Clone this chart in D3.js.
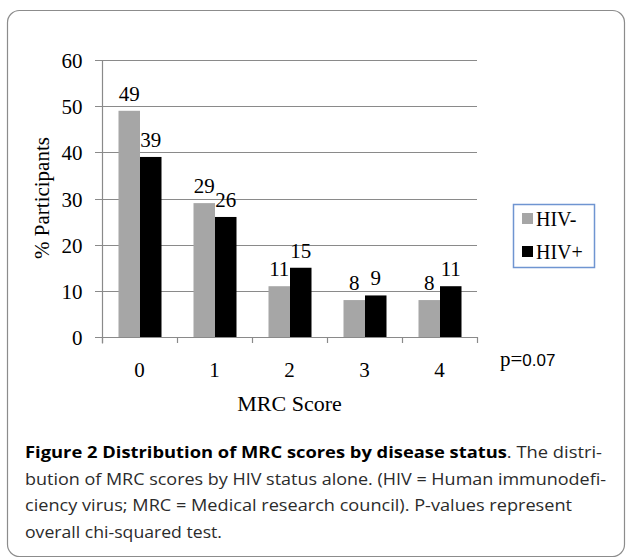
<!DOCTYPE html>
<html>
<head>
<meta charset="utf-8">
<style>
  body { margin: 0; background: #fff; }
  .tick text, .lbl { font-family: "Liberation Serif", "Times New Roman", serif; fill: #000; }
  .caption { font-family: "Open Sans", "Noto Sans", sans-serif; font-size: 16.5px; fill: #2b2b2b; }
</style>
<script src="https://cdn.jsdelivr.net/npm/d3@7"></script>
</head>
<body>
<svg width="626" height="558"></svg>
<script>
var scores = ["0", "1", "2", "3", "4"],
    hivNeg = [49, 29, 11, 8, 8],
    hivPos = [39, 26, 15, 9, 11],
    seriesNames = ["HIV-", "HIV+"],
    seriesColors = ["#a6a6a6", "#000000"],
    yTicks = [0, 10, 20, 30, 40, 50, 60];

var captionLines = [
  [{t: "Figure 2 Distribution of MRC scores by disease status", b: true}, {t: ". The distri-"}],
  [{t: "bution of MRC scores by HIV status alone. (HIV = Human immunodefi-"}],
  [{t: "ciency virus; MRC = Medical research council). P-values represent"}],
  [{t: "overall chi-squared test."}]
];
var captionWidths = [577, 581, 547, 197];

var svg = d3.select("svg"),
    plotLeft = 102, plotRight = 477, plotTop = 60, plotBottom = 337;

// outer rounded frame
svg.append("rect")
    .attr("x", 7.5).attr("y", 10.5)
    .attr("width", 617).attr("height", 546)
    .attr("rx", 12)
    .attr("fill", "none")
    .attr("stroke", "#8c8c8c")
    .attr("stroke-width", 1.2);

var x0 = d3.scaleBand().domain(scores).range([plotLeft, plotRight]).padding(0),
    x1 = d3.scaleBand().domain(seriesNames).range([16.5, 59.5]),
    y = d3.scaleLinear().domain([0, 60]).range([plotBottom, plotTop]);

// gridlines
svg.append("g").selectAll("line")
  .data(yTicks)
  .enter().append("line")
    .attr("x1", plotLeft - 7).attr("x2", plotRight)
    .attr("y1", function(d) { return Math.round(y(d)) + 0.5; })
    .attr("y2", function(d) { return Math.round(y(d)) + 0.5; })
    .attr("stroke", "#8a8a8a")
    .attr("stroke-width", 1.2);

var yAxis = svg.append("g")
    .attr("transform", "translate(" + (plotLeft + 0.5) + ",0.5)")
    .call(d3.axisLeft(y).tickValues(yTicks).tickSize(0).tickPadding(20));
yAxis.select(".domain").attr("stroke", "#8a8a8a").attr("stroke-width", 1.2)
    .attr("d", "M0," + plotTop + "V" + (plotBottom + 6));
yAxis.selectAll(".tick text").style("font-size", "21px").attr("dy", "0.34em");

// x axis boundary ticks
var bounds = scores.map(function(d) { return x0(d); }).concat([plotRight]);
svg.append("g").selectAll("line")
  .data(bounds)
  .enter().append("line")
    .attr("x1", function(d) { return Math.round(d) + 0.5; })
    .attr("x2", function(d) { return Math.round(d) + 0.5; })
    .attr("y1", plotBottom).attr("y2", plotBottom + 6)
    .attr("stroke", "#8a8a8a")
    .attr("stroke-width", 1.2);

var xAxis = svg.append("g")
    .attr("transform", "translate(0," + plotBottom + ")")
    .call(d3.axisBottom(x0).tickSize(0).tickPadding(0));
xAxis.select(".domain").remove();
xAxis.selectAll(".tick text").style("font-size", "21px").attr("y", 40).attr("dy", 0);

var rows = scores.map(function(s, i) {
  return {score: s, values: [{key: "HIV-", v: hivNeg[i]}, {key: "HIV+", v: hivPos[i]}]};
});

var group = svg.selectAll(".grp")
  .data(rows)
  .enter().append("g")
    .attr("class", "grp")
    .attr("transform", function(d) { return "translate(" + x0(d.score) + ",0)"; });

group.selectAll("rect")
  .data(function(d) { return d.values; })
  .enter().append("rect")
    .attr("x", function(d) { return x1(d.key); })
    .attr("y", function(d) { return y(d.v); })
    .attr("width", x1.bandwidth())
    .attr("height", function(d) { return plotBottom - y(d.v); })
    .attr("fill", function(d, i) { return seriesColors[i]; });

group.selectAll("text")
  .data(function(d) { return d.values; })
  .enter().append("text")
    .attr("class", "lbl")
    .attr("x", function(d) { return x1(d.key) + x1.bandwidth() / 2; })
    .attr("y", function(d) { return y(d.v) - 10; })
    .attr("text-anchor", "middle")
    .style("font-size", "21px")
    .text(function(d) { return d.v; });

// axis titles
svg.append("text")
    .attr("class", "lbl")
    .attr("transform", "translate(49,198) rotate(-90)")
    .attr("text-anchor", "middle")
    .style("font-size", "21px")
    .text("% Participants");

svg.append("text")
    .attr("class", "lbl")
    .attr("x", (plotLeft + plotRight) / 2)
    .attr("y", 411)
    .attr("text-anchor", "middle")
    .style("font-size", "22px")
    .text("MRC Score");

var pval = svg.append("text")
    .attr("x", 500)
    .attr("y", 366)
    .attr("class", "lbl")
    .style("font-size", "21px");
pval.append("tspan").text("p=");
pval.append("tspan")
    .style("font-family", "'Liberation Sans', Arial, sans-serif")
    .style("font-size", "17px")
    .text("0.07");

// legend
var legend = svg.append("g").attr("transform", "translate(513,204)");
legend.append("rect")
    .attr("x", 0.5).attr("y", 0.5)
    .attr("width", 81).attr("height", 63)
    .attr("fill", "#fff")
    .attr("stroke", "#6f95d1")
    .attr("stroke-width", 1.5);

var item = legend.selectAll(".item")
  .data(seriesNames)
  .enter().append("g")
    .attr("class", "item")
    .attr("transform", function(d, i) { return "translate(9," + (9 + i * 33) + ")"; });
item.append("rect")
    .attr("width", 11).attr("height", 11)
    .attr("fill", function(d, i) { return seriesColors[i]; });
item.append("text")
    .attr("class", "lbl")
    .attr("x", 14)
    .attr("y", 13)
    .style("font-size", "20px")
    .text(function(d) { return d; });

// caption
var cap = svg.append("g");
captionLines.forEach(function(line, i) {
  var t = cap.append("text")
      .attr("class", "caption")
      .attr("x", 25)
      .attr("y", 458 + i * 26.5);
  line.forEach(function(seg) {
    t.append("tspan")
        .style("font-weight", seg.b ? "bold" : null)
        .style("fill", seg.b ? "#000" : null)
        .text(seg.t);
  });
  t.attr("textLength", captionWidths[i]).attr("lengthAdjust", "spacingAndGlyphs");
});
</script>
</body>
</html>
